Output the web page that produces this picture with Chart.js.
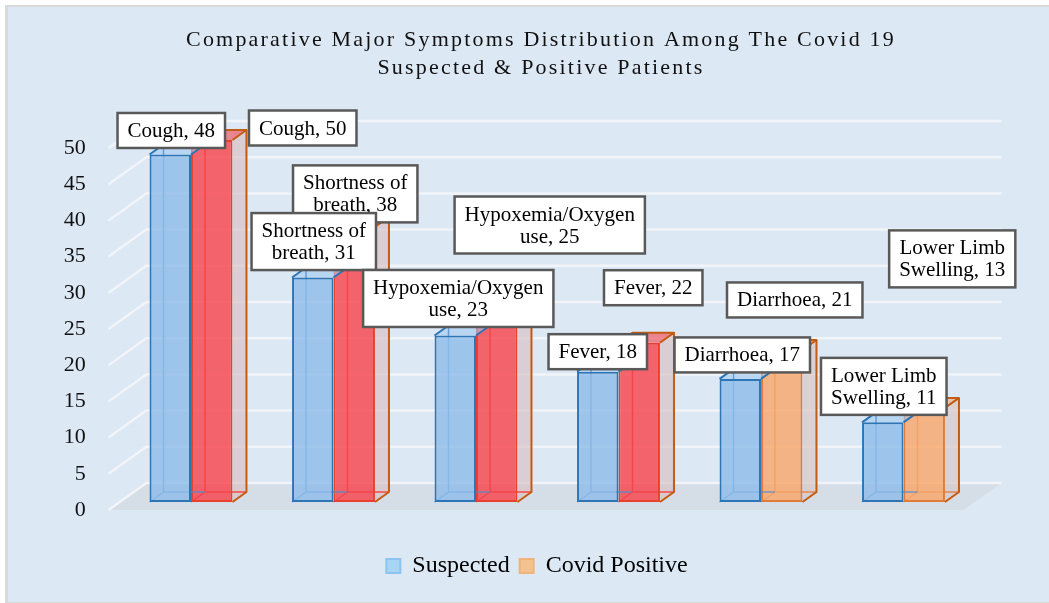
<!DOCTYPE html>
<html>
<head>
<meta charset="utf-8">
<script src="https://cdn.jsdelivr.net/npm/chart.js@4.4.1/dist/chart.umd.min.js"></script>
<style>
  html, body { margin: 0; padding: 0; background: #ffffff; }
</style>
</head>
<body>
<canvas id="chart" width="1049" height="603"></canvas>
<script>
// data
const categories = ['Cough', 'Shortness of breath', 'Hypoxemia/Oxygen use', 'Fever', 'Diarrhoea', 'Lower Limb Swelling'];
const suspected = [48, 31, 23, 18, 17, 11];
const covidPositive = [50, 38, 25, 22, 21, 13];
const seriesNames = ['Suspected', 'Covid Positive'];
const yMin = 0, yMax = 50, yStep = 5;
const titleLines = ['Comparative Major Symptoms Distribution Among The Covid 19', 'Suspected & Positive Patients'];

// layout / style
const FONT = "'Liberation Serif', 'Times New Roman', serif";
const DX = 14, DY = -10;          // depth of one bar
const FLOOR_FRONT = -0.8, WALL = 1.9;
// label box centre offset from the bar's top-centre, [suspected, covid]
const labelOffsets = [
  [[1, -24], [1, -36], [3, -37], [0, -20], [2, -24], [1, -36]],
  [[91, -12], [1, -33], [53, -96], [14, -55], [13, -50], [28, -149]]
];
const covidTone = ['red', 'red', 'red', 'red', 'orange', 'orange'];
const tones = {
  blue:   { front: 'rgba(141,187,234,0.8)', border: '#2e75b6', inner: 'rgba(70,140,210,0.75)', side: null, top: 'rgba(160,200,240,0.6)', edge: '#2e75b6' },
  red:    { front: 'rgba(248,65,74,0.8)',  border: '#e8402c', inner: 'rgba(255,40,40,0.8)', side: 'rgba(217,195,198,0.7)', top: 'rgba(240,90,100,0.7)', edge: '#c55a11' },
  orange: { front: 'rgba(250,165,104,0.8)', border: '#e07b39', inner: 'rgba(230,120,50,0.8)', side: 'rgba(217,200,198,0.7)', top: 'rgba(245,170,120,0.6)', edge: '#c55a11' }
};
const toneOf = (ds, i) => ds === 0 ? tones.blue : tones[covidTone[i]];

function poly(ctx, pts, fill) {
  ctx.beginPath();
  pts.forEach(([x, y], k) => k ? ctx.lineTo(x, y) : ctx.moveTo(x, y));
  ctx.closePath();
  ctx.fillStyle = fill;
  ctx.fill();
}
function path(ctx, pts, stroke, w) {
  ctx.beginPath();
  pts.forEach(([x, y], k) => k ? ctx.lineTo(x, y) : ctx.moveTo(x, y));
  ctx.strokeStyle = stroke;
  ctx.lineWidth = w;
  ctx.stroke();
}
function barBox(bar) {
  const { x, y, base, width } = bar.getProps(['x', 'y', 'base', 'width'], true);
  return { L: x - width / 2, R: x + width / 2, x, y, base };
}

const scene3d = {
  id: 'scene3d',
  beforeDraw(chart) {
    const { ctx, chartArea: a, scales: { y } } = chart;
    ctx.save();
    ctx.fillStyle = '#ffffff';
    ctx.fillRect(0, 0, chart.width, chart.height);
    ctx.fillStyle = '#d9d9d9';
    ctx.fillRect(5, 5, chart.width - 5, chart.height - 5);
    ctx.fillStyle = '#dde8f5';
    ctx.fillRect(8, 7, chart.width - 8, chart.height - 8);

    // title
    ctx.fillStyle = '#111';
    ctx.font = `22px ${FONT}`;
    ctx.letterSpacing = '2.2px';
    ctx.textAlign = 'center';
    ctx.textBaseline = 'middle';
    titleLines.forEach((t, i) => ctx.fillText(t, 541, 40 + i * 28));
    ctx.letterSpacing = '0px';

    // floor
    const y0 = y.getPixelForValue(0);
    poly(ctx, [
      [a.left + FLOOR_FRONT * DX, y0 + FLOOR_FRONT * DY],
      [a.right + FLOOR_FRONT * DX, y0 + FLOOR_FRONT * DY],
      [a.right + WALL * DX, y0 + WALL * DY],
      [a.left + WALL * DX, y0 + WALL * DY]
    ], '#d5dde6');

    // wall grid
    y.ticks.forEach(t => {
      const py = y.getPixelForValue(t.value);
      path(ctx, [
        [a.left + FLOOR_FRONT * DX, py + FLOOR_FRONT * DY],
        [a.left + WALL * DX, py + WALL * DY],
        [a.right + WALL * DX, py + WALL * DY]
      ], '#f1f4f8', 2.5);
    });
    ctx.restore();
  },
  beforeDatasetDraw(chart, { index, meta }) {
    const ctx = chart.ctx;
    ctx.save();
    meta.data.forEach((bar, i) => {
      const { L, R, y, base } = barBox(bar);
      const t = toneOf(index, i);
      if (t.side) poly(ctx, [[R, y], [R + DX, y + DY], [R + DX, base + DY], [R, base]], t.side);
      poly(ctx, [[L, y], [L + DX, y + DY], [R + DX, y + DY], [R, y]], t.top);
      path(ctx, [[L + DX, y + DY], [L + DX, base + DY], [R + DX, base + DY]], t.inner, 1.5);
      path(ctx, [[L, base], [L + DX, base + DY]], t.inner, 1.5);
    });
    ctx.restore();
  },
  afterDatasetDraw(chart, { index, meta }) {
    const ctx = chart.ctx;
    ctx.save();
    ctx.lineJoin = 'round';
    meta.data.forEach((bar, i) => {
      const { L, R, y, base } = barBox(bar);
      const t = toneOf(index, i);
      path(ctx, [[L, y], [L + DX, y + DY], [R + DX, y + DY], [R, y]], t.edge, 2);
      if (index === 1) path(ctx, [[R + DX, y + DY], [R + DX, base + DY], [R, base]], t.edge, 2);
    });
    ctx.restore();
  },
  afterDatasetsDraw(chart) {
    const ctx = chart.ctx;
    ctx.save();
    ctx.font = `21px ${FONT}`;
    ctx.textAlign = 'center';
    ctx.textBaseline = 'middle';
    const lineH = 22, padX = 10, padY = 6.5, maxW = 130;
    [1, 0].forEach(ds => {
      const values = ds === 0 ? suspected : covidPositive;
      chart.getDatasetMeta(ds).data.forEach((bar, i) => {
        const { x, y } = barBox(bar);
        // wrap "category, value" like Excel does
        const words = `${categories[i]}, ${values[i]}`.split(' ');
        const lines = [];
        let cur = '';
        words.forEach(w => {
          const test = cur ? cur + ' ' + w : w;
          if (cur && ctx.measureText(test).width > maxW) { lines.push(cur); cur = w; } else cur = test;
        });
        lines.push(cur);
        const w = Math.max(...lines.map(l => ctx.measureText(l).width)) + padX * 2;
        const h = lines.length * lineH + padY * 2;
        const cx = x + labelOffsets[ds][i][0];
        const cy = y + labelOffsets[ds][i][1];
        ctx.fillStyle = '#ffffff';
        ctx.fillRect(cx - w / 2, cy - h / 2, w, h);
        ctx.strokeStyle = '#595959';
        ctx.lineWidth = 2.5;
        ctx.strokeRect(cx - w / 2, cy - h / 2, w, h);
        ctx.fillStyle = '#000';
        lines.forEach((l, k) => ctx.fillText(l, cx, cy - (lines.length - 1) * lineH / 2 + k * lineH + 1));
      });
    });
    ctx.restore();
  }
};

new Chart(document.getElementById('chart'), {
  type: 'bar',
  data: {
    labels: categories,
    datasets: [
      {
        label: seriesNames[0],
        data: suspected,
        backgroundColor: suspected.map((_, i) => toneOf(0, i).front),
        borderColor: suspected.map((_, i) => toneOf(0, i).border),
        borderWidth: 2,
        borderSkipped: false,
        clip: false
      },
      {
        label: seriesNames[1],
        data: covidPositive,
        backgroundColor: covidPositive.map((_, i) => toneOf(1, i).front),
        borderColor: covidPositive.map((_, i) => toneOf(1, i).border),
        borderWidth: 2,
        borderSkipped: false,
        clip: false
      }
    ]
  },
  options: {
    responsive: false,
    animation: false,
    layout: { padding: { top: 140, left: 25, right: 0, bottom: 15 } },
    datasets: { bar: { barPercentage: 1, categoryPercentage: 0.582 } },
    scales: {
      x: {
        grid: { display: false, drawTicks: false },
        border: { display: false },
        ticks: { display: false },
        afterFit: s => { s.height = 42; }
      },
      y: {
        min: yMin,
        max: yMax,
        grid: { display: false, drawTicks: false },
        border: { display: false },
        ticks: { stepSize: yStep, padding: 34, labelOffset: 8, color: '#111', font: { family: FONT, size: 22 } },
        afterFit: s => { s.width = 94.75; }
      },
      yRight: {
        position: 'right',
        grid: { display: false, drawTicks: false },
        border: { display: false },
        ticks: { display: false },
        afterFit: s => { s.width = 74.25; }
      }
    },
    plugins: {
      title: { display: false },
      tooltip: { enabled: false },
      legend: {
        position: 'bottom',
        labels: {
          color: '#111',
          font: { family: FONT, size: 24 },
          boxWidth: 14,
          boxHeight: 14,
          padding: 10,
          generateLabels: () => seriesNames.map((n, i) => ({
            text: n,
            fillStyle: i === 0 ? '#a9d5f5' : '#f4c28f',
            strokeStyle: i === 0 ? '#8cc4ef' : '#f0b47a',
            lineWidth: 2,
            datasetIndex: i,
            hidden: false
          }))
        }
      }
    }
  },
  plugins: [scene3d]
});
</script>
</body>
</html>
